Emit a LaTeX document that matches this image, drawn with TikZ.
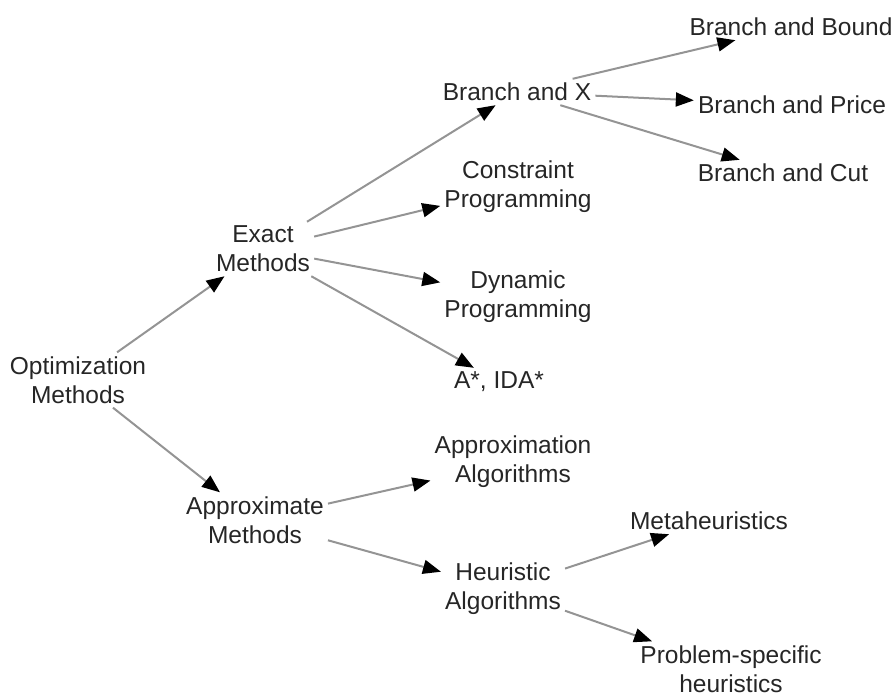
\documentclass[tikz,border=0pt]{standalone}
\usepackage{fontspec}
\setmainfont{Liberation Sans}
\usetikzlibrary{arrows.meta}
\begin{document}
\begin{tikzpicture}[x=1pt,y=-1pt,
  term/.style={align=center, text=black!85, inner sep=4pt,
    font=\fontsize{24.5}{29}\selectfont},
  link/.style={draw=black!42, line width=2pt,
    -{Triangle[length=18pt,width=14pt,fill=black,color=black]}}]
\useasboundingbox (0,0) rectangle (896,698);
\node[term] (opt)    at (78,380)  {Optimization\\Methods};
\node[term] (exact)  at (263,249) {Exact\\Methods};
\node[term] (approx) at (255,520) {Approximate\\Methods};
\node[term] (bx)     at (517,92)  {Branch and X};
\node[term] (cp)     at (518,187) {Constraint\\Programming};
\node[term] (dp)     at (518,297) {Dynamic\\Programming};
\node[term] (astar)  at (499,382) {A*, IDA*};
\node[term] (aa)     at (513,462) {Approximation\\Algorithms};
\node[term] (ha)     at (503,589) {Heuristic\\Algorithms};
\node[term] (bb)     at (791,27)  {Branch and Bound};
\node[term] (bp)     at (792,105) {Branch and Price};
\node[term] (bc)     at (783,173) {Branch and Cut};
\node[term] (meta)   at (709,521) {Metaheuristics};
\node[term] (ps)     at (731,669) {Problem-specific\\heuristics};
\draw[link] (opt) -- (exact);
\draw[link] (opt) -- (approx);
\draw[link] (exact) -- (bx);
\draw[link] (exact) -- (cp);
\draw[link] (exact) -- (dp);
\draw[link] (exact) -- (astar);
\draw[link] (approx) -- (aa);
\draw[link] (approx) -- (ha);
\draw[link] (bx) -- (bb);
\draw[link] (bx) -- (bp);
\draw[link] (bx) -- (bc);
\draw[link] (ha) -- (meta);
\draw[link] (ha) -- (ps);
\end{tikzpicture}
\end{document}
